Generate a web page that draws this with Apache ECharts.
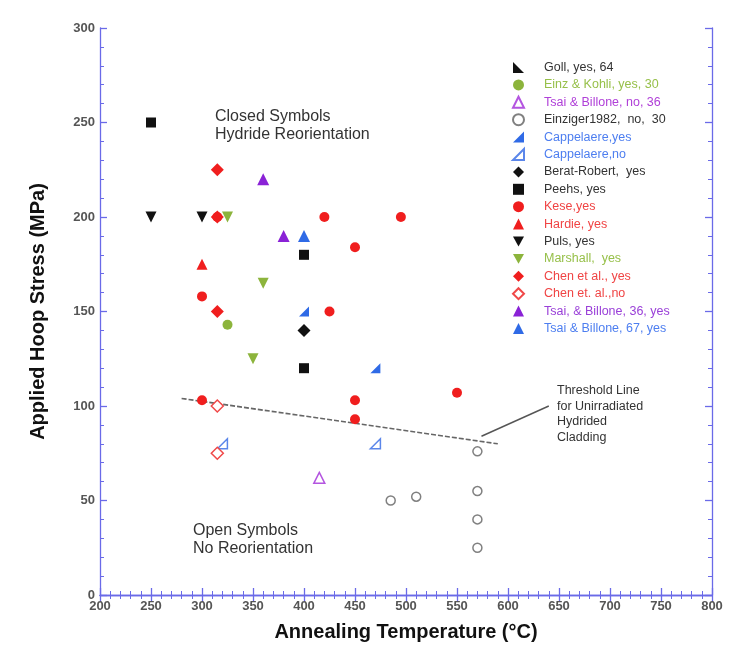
<!DOCTYPE html>
<html>
<head>
<meta charset="utf-8">
<script src="https://cdn.jsdelivr.net/npm/echarts@6/dist/echarts.min.js"></script>
<style>html,body{margin:0;padding:0;background:#fff;}#c{width:740px;height:652px;}</style>
</head>
<body>
<div id="c"></div>
<script>
// ---- data ----
var xTicks = [200,250,300,350,400,450,500,550,600,650,700,750,800];
var yTicks = [0,50,100,150,200,250,300];
var goll = [];
var einzKohli = [[325,143]];
var tsaiNo36 = [[415,62]];
var einziger = [[485,50],[510,52],[570,76],[570,55],[570,40],[570,25]];
var cappYes = [[400,150],[470,120]];
var cappNo = [[320,80],[470,80]];
var beratRobert = [[400,140]];
var peehs = [[250,250],[400,180],[400,120]];
var kese = [[315,200],[420,200],[495,200],[450,184],[425,150],[300,158],[300,103],[450,103],[450,93],[550,107]];
var hardie = [[300,175]];
var puls = [[250,200],[300,200]];
var marshall = [[325,200],[360,165],[350,125]];
var chenYes = [[315,225],[315,200],[315,150]];
var chenNo = [[315,100],[315,75]];
var tsai36 = [[360,220],[380,190]];
var tsai67 = [[400,190]];
var threshold = [[280,104],[590,80]];
var leader = [[574,84],[640,100]];

// ---- styles ----
var BLACK='#111', GREEN='#8cb43c', PURPLE_O='#b455e0', PURPLE='#8a22d6', GRAY='#808080', BLUE='#2f6ae6', RED='#f01e1e';
var triUp='triangle';
var triDown='path://M0,0 L10,0 L5,9 Z';
var rtriGoll='path://M0,0 L0,10 L10,10 Z';
var rtriCap='path://M10,0 L10,10 L0,10 Z';

function filled(name,data,symbol,size,color){
  return {name:name,type:'scatter',data:data,symbol:symbol,symbolSize:size,
    itemStyle:{color:color,opacity:1},z:3};
}
function open(name,data,symbol,size,color){
  return {name:name,type:'scatter',data:data,symbol:symbol,symbolSize:size,
    itemStyle:{color:'#fff',borderColor:color,borderWidth:1.5,opacity:1},z:3};
}

var series = [
  filled('Goll, yes, 64',goll,rtriGoll,10,BLACK),
  filled('Einz & Kohli, yes, 30',einzKohli,'circle',10,GREEN),
  open('Tsai & Billone, no, 36',tsaiNo36,triUp,11,PURPLE_O),
  open('Einziger1982,  no,  30',einziger,'circle',9,GRAY),
  filled('Cappelaere,yes',cappYes,rtriCap,10,BLUE),
  open('Cappelaere,no',cappNo,rtriCap,10,'#5b86ea'),
  filled('Berat-Robert,  yes',beratRobert,'diamond',13,BLACK),
  filled('Peehs, yes',peehs,'rect',10,BLACK),
  filled('Kese,yes',kese,'circle',10,RED),
  filled('Hardie, yes',hardie,triUp,11,RED),
  filled('Puls, yes',puls,triDown,11,BLACK),
  filled('Marshall,  yes',marshall,triDown,11,GREEN),
  filled('Chen et al., yes',chenYes,'diamond',13,RED),
  open('Chen et. al.,no',chenNo,'diamond',12,'#f04848'),
  filled('Tsai, & Billone, 36, yes',tsai36,triUp,12,PURPLE),
  filled('Tsai & Billone, 67, yes',tsai67,triUp,12,BLUE),
  {name:'threshold',type:'line',data:threshold,symbol:'none',silent:true,
    lineStyle:{color:'#666',width:1.6,type:[5,2]},z:2},
  {name:'leader',type:'line',data:leader,symbol:'none',silent:true,
    lineStyle:{color:'#555',width:1.4},z:2}
];

var legendText = {
  'Goll, yes, 64':'#333','Einz & Kohli, yes, 30':'#97c04a','Tsai & Billone, no, 36':'#b040d8',
  'Einziger1982,  no,  30':'#333','Cappelaere,yes':'#4d7ef0','Cappelaere,no':'#4d7ef0',
  'Berat-Robert,  yes':'#333','Peehs, yes':'#333','Kese,yes':'#f04444','Hardie, yes':'#f04444',
  'Puls, yes':'#333','Marshall,  yes':'#97c04a','Chen et al., yes':'#f04444','Chen et. al.,no':'#f04444',
  'Tsai, & Billone, 36, yes':'#9a40d8','Tsai & Billone, 67, yes':'#4d7ef0'
};
var legendData = Object.keys(legendText).map(function(n){return {name:n,textStyle:{color:legendText[n]}};});

var AX='#6a6ae8';
function axisCommon(show){
  return {
    axisLine:{show:true,lineStyle:{color:AX,width:1.3}},
    axisTick:{show:true,inside:true,length:7,lineStyle:{color:AX,width:1.3}},
    minorTick:{show:true,splitNumber:5,length:4,lineStyle:{color:AX,width:1}},
    splitLine:{show:false},
    axisLabel:{show:show,color:'#555',fontSize:13,fontWeight:'bold',fontFamily:'Arial, Liberation Sans, sans-serif'}
  };
}
var xb = Object.assign({type:'value',position:'bottom',min:200,max:800,interval:50,
  name:'Annealing Temperature (°C)',nameLocation:'middle',nameGap:27,
  nameTextStyle:{fontSize:20,fontWeight:'bold',color:'#111',fontFamily:'Arial, Liberation Sans, sans-serif'}},axisCommon(true));
xb.axisLabel.margin=5;
var xt = Object.assign({type:'value',position:'top',min:200,max:800,interval:50},axisCommon(false));
var yl = Object.assign({type:'value',position:'left',min:0,max:300,interval:50,
  name:'Applied Hoop Stress (MPa)',nameLocation:'middle',nameGap:52,
  nameTextStyle:{fontSize:20,fontWeight:'bold',color:'#111',fontFamily:'Arial, Liberation Sans, sans-serif'}},axisCommon(true));
yl.axisLabel.margin=5;
var yr = Object.assign({type:'value',position:'right',min:0,max:300,interval:50},axisCommon(false));

var TF='Arial, Liberation Sans, sans-serif';
var option = {
  animation:false,
  backgroundColor:'#fff',
  grid:{left:100,right:28,top:28,bottom:57,containLabel:false},
  xAxis:[xb,xt],
  yAxis:[yl,yr],
  legend:{show:true,orient:'vertical',left:512,top:61,itemWidth:11,itemHeight:11,itemGap:4.4,
    data:legendData,selectedMode:false,
    textStyle:{fontSize:12.5,fontFamily:TF,lineHeight:13,padding:[0,0,0,15]},padding:0},
  graphic:[
    {type:'text',left:215,top:108,style:{text:'Closed Symbols\nHydride Reorientation',font:'16px Arial, Liberation Sans, sans-serif',fill:'#333',lineHeight:18}},
    {type:'text',left:193,top:522,style:{text:'Open Symbols\nNo Reorientation',font:'16px Arial, Liberation Sans, sans-serif',fill:'#333',lineHeight:18}},
    {type:'text',left:557,top:383,style:{text:'Threshold Line\nfor Unirradiated\nHydrided\nCladding',font:'12.5px Arial, Liberation Sans, sans-serif',fill:'#333',lineHeight:15.5}}
  ],
  series:series
};
var chart = echarts.init(document.getElementById('c'),null,{renderer:'canvas'});
chart.setOption(option);
</script>
</body>
</html>
